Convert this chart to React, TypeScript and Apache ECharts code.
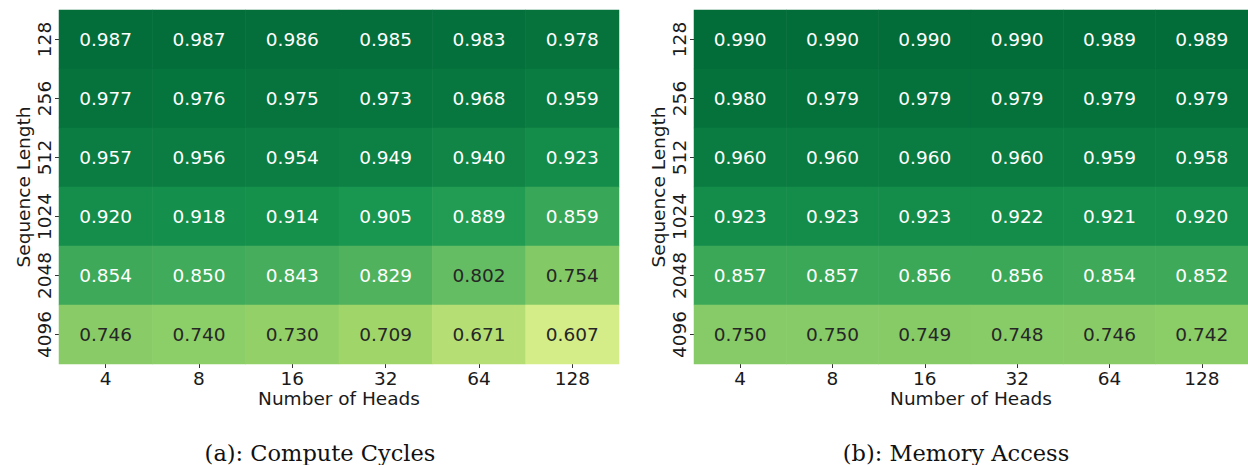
import React, { useEffect, useRef } from "react";
import * as echarts from "echarts";

const heads = ["4", "8", "16", "32", "64", "128"];
const seqLens = ["128", "256", "512", "1024", "2048", "4096"];

const computeCycles = [
  [0.987, 0.987, 0.986, 0.985, 0.983, 0.978],
  [0.977, 0.976, 0.975, 0.973, 0.968, 0.959],
  [0.957, 0.956, 0.954, 0.949, 0.94, 0.923],
  [0.92, 0.918, 0.914, 0.905, 0.889, 0.859],
  [0.854, 0.85, 0.843, 0.829, 0.802, 0.754],
  [0.746, 0.74, 0.73, 0.709, 0.671, 0.607],
];

const memoryAccess = [
  [0.99, 0.99, 0.99, 0.99, 0.989, 0.989],
  [0.98, 0.979, 0.979, 0.979, 0.979, 0.979],
  [0.96, 0.96, 0.96, 0.96, 0.959, 0.958],
  [0.923, 0.923, 0.923, 0.922, 0.921, 0.92],
  [0.857, 0.857, 0.856, 0.856, 0.854, 0.852],
  [0.75, 0.75, 0.749, 0.748, 0.746, 0.742],
];

const captions = ["(a): Compute Cycles", "(b): Memory Access"];

const RdYlGn = [
  "#a50026", "#d73027", "#f46d43", "#fdae61", "#fee08b", "#ffffbf",
  "#d9ef8b", "#a6d96a", "#66bd63", "#1a9850", "#006837",
];

const toItems = (m: number[][]) => {
  const out: any[] = [];
  m.forEach((row, r) =>
    row.forEach((v, c) => {
      out.push({
        value: [c, r, v],
        label: { color: v > 0.815 ? "#ffffff" : "#262626" },
      });
    })
  );
  return out;
};

export default function App() {
  const ref = useRef<HTMLDivElement>(null);
  useEffect(() => {
    const chart = echarts.init(ref.current!, null, { renderer: "svg" });
    const font = "DejaVu Sans";
    const fs = 18.5;
    const grids = [
      { left: 59, top: 10, width: 560, height: 354 },
      { left: 694, top: 10, width: 562, height: 354 },
    ];
    const xAxis = grids.map((_, i) => ({
      type: "category",
      gridIndex: i,
      data: heads,
      name: "Number of Heads",
      nameLocation: "middle",
      nameGap: 25,
      nameMoveOverlap: false,
      nameTextStyle: { fontFamily: font, fontSize: fs, color: "#1a1a1a" },
      axisLine: { show: false },
      axisTick: { show: true, interval: 0, alignWithLabel: true, length: 4, lineStyle: { color: "#333" } },
      axisLabel: { interval: 0, fontFamily: font, fontSize: fs, color: "#1a1a1a", margin: 5 },
      splitLine: { show: false },
    }));
    const yAxis = grids.map((_, i) => ({
      type: "category",
      gridIndex: i,
      data: seqLens,
      inverse: true,
      name: "Sequence Length",
      nameLocation: "middle",
      nameRotate: 90,
      nameGap: 26,
      nameMoveOverlap: false,
      nameTextStyle: { fontFamily: font, fontSize: fs, color: "#1a1a1a" },
      axisLine: { show: false },
      axisTick: { show: true, interval: 0, alignWithLabel: true, length: 4, lineStyle: { color: "#333" } },
      axisLabel: { interval: 0, hideOverlap: false, fontFamily: font, fontSize: fs, color: "#1a1a1a", rotate: 90, margin: 5 },
      splitLine: { show: false },
    }));
    const mats = [computeCycles, memoryAccess];
    chart.setOption({
      animation: false,
      grid: grids,
      xAxis,
      yAxis,
      visualMap: {
        show: false,
        type: "continuous",
        min: 0,
        max: 1,
        dimension: 2,
        seriesIndex: [0, 1],
        inRange: { color: RdYlGn },
      },
      title: captions.map((t, i) => ({
        text: t,
        left: i === 0 ? 320 : 956,
        textAlign: "center",
        top: 441,
        padding: 0,
        textStyle: { fontFamily: "DejaVu Serif", fontSize: 22.5, lineHeight: 23, fontWeight: "normal", color: "#111" },
      })),
      series: mats.map((m, i) => ({
        type: "heatmap",
        xAxisIndex: i,
        yAxisIndex: i,
        data: toItems(m),
        label: {
          show: true,
          fontFamily: font,
          fontSize: fs,
          formatter: (p: any) => p.value[2].toFixed(3),
        },
        itemStyle: { borderWidth: 0 },
      })),
    });
    return () => chart.dispose();
  }, []);
  return (
    <div
      ref={ref}
      style={{ position: "absolute", left: 0, top: 0, width: 1248, height: 465, background: "#fff" }}
    />
  );
}
